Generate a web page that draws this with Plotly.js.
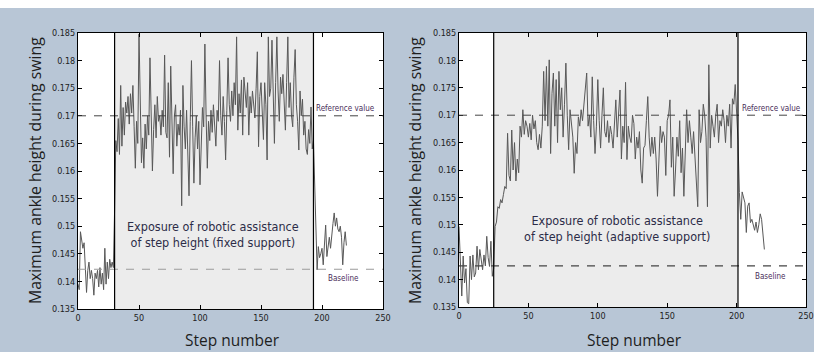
<!DOCTYPE html>
<html>
<head>
<meta charset="utf-8">
<script src="https://cdn.plot.ly/plotly-3.0.1.min.js"></script>
<style>
html,body{margin:0;padding:0;background:#ffffff;}
#chart{width:814px;height:352px;}
</style>
</head>
<body>
<div id="chart"></div>
<script>
// ---------------- DATA ----------------
// Maximum ankle height during swing, fixed support (steps 0..220)
const fixedSupport = [
0.1395,0.1385,0.1490,0.1475,0.1460,0.1470,0.1410,0.1380,0.1420,0.1435,
0.1405,0.1420,0.1405,0.1375,0.1415,0.1405,0.1420,0.1390,0.1425,0.1395,
0.1415,0.1385,0.1460,0.1395,0.1435,0.1405,0.1440,0.1425,0.1435,0.1425,
0.1530,0.1655,0.1635,0.1695,0.1630,0.1755,0.1645,0.1715,0.1665,0.1725,
0.1705,0.1735,0.1685,0.1740,0.1705,0.1755,0.1680,0.1605,0.1690,0.1650,
0.1848,0.1700,0.1615,0.1660,0.1605,0.1685,0.1640,0.1700,0.1665,0.1805,
0.1690,0.1600,0.1675,0.1720,0.1660,0.1735,0.1690,0.1700,0.1665,0.1710,
0.1680,0.1810,0.1670,0.1660,0.1760,0.1625,0.1790,0.1665,0.1595,0.1700,
0.1720,0.1645,0.1685,0.1665,0.1710,0.1537,0.1755,0.1680,0.1640,0.1710,
0.1600,0.1555,0.1690,0.1800,0.1680,0.1578,0.1660,0.1700,0.1640,0.1690,
0.1575,0.1660,0.1715,0.1680,0.1830,0.1700,0.1605,0.1690,0.1655,0.1710,
0.1670,0.1720,0.1685,0.1645,0.1710,0.1690,0.1800,0.1700,0.1665,0.1735,
0.1690,0.1620,0.1710,0.1805,0.1720,0.1690,0.1745,0.1700,0.1760,0.1720,
0.1843,0.1674,0.1740,0.1705,0.1765,0.1665,0.1770,0.1740,0.1715,0.1760,
0.1665,0.1735,0.1705,0.1745,0.1720,0.1696,0.1750,0.1816,0.1644,0.1735,
0.1760,0.1715,0.1657,0.1760,0.1720,0.1620,0.1843,0.1735,0.1750,0.1837,
0.1710,0.1650,0.1760,0.1843,0.1745,0.1690,0.1770,0.1740,0.1775,0.1720,
0.1674,0.1760,0.1843,0.1715,0.1760,0.1700,0.1680,0.1770,0.1820,0.1720,
0.1690,0.1638,0.1745,0.1700,0.1730,0.1665,0.1690,0.1640,0.1630,0.1675,
0.1650,0.1716,0.1640,0.1655,0.1560,0.1485,0.1421,0.1463,0.1443,0.1450,
0.1460,0.1430,0.1470,0.1502,0.1445,0.1470,0.1480,0.1460,0.1490,0.1505,
0.1524,0.1500,0.1515,0.1495,0.1490,0.1500,0.1480,0.1430,0.1470,0.1490,
0.1465
];
// Maximum ankle height during swing, adaptive support (steps 0..220)
const adaptiveSupport = [
0.1497,0.1418,0.1370,0.1443,0.1394,0.1420,0.1358,0.1356,0.1443,0.1400,
0.1445,0.1405,0.1412,0.1461,0.1418,0.1455,0.1430,0.1418,0.1445,0.1425,
0.1479,0.1440,0.1424,0.1470,0.1406,0.1420,0.1497,0.1505,0.1533,0.1530,
0.1546,0.1540,0.1555,0.1570,0.1566,0.1667,0.1590,0.1580,0.1673,0.1600,
0.1650,0.1580,0.1620,0.1595,0.1680,0.1660,0.1710,0.1665,0.1690,0.1680,
0.1660,0.1685,0.1655,0.1700,0.1675,0.1690,0.1650,0.1637,0.1665,0.1640,
0.1680,0.1780,0.1690,0.1789,0.1680,0.1801,0.1630,0.1740,0.1777,0.1680,
0.1765,0.1650,0.1780,0.1710,0.1750,0.1660,0.1720,0.1795,0.1700,0.1637,
0.1710,0.1690,0.1660,0.1594,0.1650,0.1630,0.1697,0.1680,0.1710,0.1690,
0.1720,0.1760,0.1777,0.1680,0.1700,0.1660,0.1770,0.1690,0.1630,0.1680,
0.1765,0.1690,0.1640,0.1700,0.1750,0.1670,0.1660,0.1690,0.1650,0.1680,
0.1665,0.1640,0.1680,0.1728,0.1660,0.1700,0.1746,0.1620,0.1680,0.1650,
0.1760,0.1619,0.1680,0.1660,0.1650,0.1700,0.1685,0.1620,0.1660,0.1640,
0.1670,0.1600,0.1576,0.1640,0.1645,0.1690,0.1734,0.1660,0.1625,0.1660,
0.1630,0.1660,0.1620,0.1552,0.1630,0.1680,0.1650,0.1670,0.1660,0.1590,
0.1690,0.1700,0.1728,0.1605,0.1660,0.1552,0.1600,0.1660,0.1625,0.1690,
0.1595,0.1640,0.1552,0.1620,0.1710,0.1650,0.1690,0.1660,0.1630,0.1670,
0.1620,0.1580,0.1533,0.1710,0.1650,0.1670,0.1720,0.1700,0.1660,0.1533,
0.1792,0.1640,0.1700,0.1680,0.1660,0.1700,0.1720,0.1650,0.1690,0.1680,
0.1710,0.1690,0.1650,0.1700,0.1680,0.1720,0.1640,0.1730,0.1720,0.1756,
0.1700,0.1655,0.1559,0.1510,0.1560,0.1547,0.1540,0.1486,0.1534,0.1540,
0.1504,0.1510,0.1500,0.1490,0.1505,0.1486,0.1500,0.1520,0.1510,0.1480,
0.1455
];
const fixedSteps = fixedSupport.map((v, i) => i);
const adaptiveSteps = adaptiveSupport.map((v, i) => i);

// phase boundaries (step numbers) and reference levels
const fixedPhase = [30, 193];
const adaptivePhase = [25, 201];
const referenceValue = 0.17;
const fixedBaseline = 0.1422;
const adaptiveBaseline = 0.1425;

const xTickVals = [0, 50, 100, 150, 200, 250];
const xTickText = ["0", "50", "100", "150", "200", "250"];
const yTickVals = [0.135, 0.14, 0.145, 0.15, 0.155, 0.16, 0.165, 0.17, 0.175, 0.18, 0.185];
const yTickText = ["0.135", "0.14", "0.145", "0.15", "0.155", "0.16", "0.165", "0.17", "0.175", "0.18", "0.185"];

const yTitle = "Maximum ankle height during swing";
const xTitle = "Step number";
const fixedLabel = "Exposure of robotic assistance<br>of step height (fixed support)";
const adaptiveLabel = "Exposure of robotic assistance<br>of step height (adaptive support)";

// ---------------- LAYOUT ----------------
const W = 814, H = 352;
const px = x => x / W;
const py = y => 1 - y / H;

const lineStyle = {color: "#585858", width: 1};
const traces = [
  {x: fixedSteps, y: fixedSupport, xaxis: "x", yaxis: "y", type: "scatter", mode: "lines", line: lineStyle, hoverinfo: "skip"},
  {x: adaptiveSteps, y: adaptiveSupport, xaxis: "x2", yaxis: "y2", type: "scatter", mode: "lines", line: lineStyle, hoverinfo: "skip"}
];

const condensed = "DejaVu Sans Condensed, Liberation Sans Narrow, sans-serif";
const tickFont = {family: condensed, size: 9, color: "#222"};
function xAx(domain, anchor) {
  return {domain: domain, anchor: anchor, range: [0, 250], tickmode: "array", tickvals: xTickVals, ticktext: xTickText,
    ticks: "inside", ticklen: 4, tickcolor: "#000", mirror: "ticks", showline: true, linecolor: "#000", linewidth: 1,
    showgrid: false, zeroline: false, tickfont: tickFont, fixedrange: true};
}
function yAx(domain, anchor) {
  return {domain: domain, anchor: anchor, range: [0.135, 0.185], tickmode: "array", tickvals: yTickVals, ticktext: yTickText,
    ticks: "inside", ticklen: 4, tickcolor: "#000", mirror: "ticks", showline: true, linecolor: "#000", linewidth: 1,
    showgrid: false, zeroline: false, tickfont: tickFont, fixedrange: true};
}

function phaseShapes(xr, yr, phase, baseline, baseColor) {
  const yd = yr + " domain";
  return [
    {type: "rect", xref: xr, yref: yd, x0: phase[0], x1: phase[1], y0: 0, y1: 1, fillcolor: "#ececec", line: {width: 0}, layer: "below"},
    {type: "line", xref: xr, yref: yr, x0: 0, x1: 250, y0: referenceValue, y1: referenceValue, line: {color: "#444", width: 1, dash: "8px,8px"}, layer: "above"},
    {type: "line", xref: xr, yref: yr, x0: 0, x1: 250, y0: baseline, y1: baseline, line: {color: baseColor, width: 1.2, dash: "8px,8px"}, layer: "above"},
    {type: "line", xref: xr, yref: yd, x0: phase[0], x1: phase[0], y0: 0, y1: 1, line: {color: "#000", width: 1.2}, layer: "above"},
    {type: "line", xref: xr, yref: yd, x0: phase[1], x1: phase[1], y0: 0, y1: 1, line: {color: "#000", width: 1.2}, layer: "above"}
  ];
}

const shapes = [
  {type: "rect", xref: "paper", yref: "paper", x0: 0, x1: 1, y0: py(8), y1: 1, fillcolor: "#ffffff", line: {width: 0}, layer: "below"}
].concat(phaseShapes("x", "y", fixedPhase, fixedBaseline, "#9a9a9a"))
 .concat(phaseShapes("x2", "y2", adaptivePhase, adaptiveBaseline, "#444"));

const titleFont = {family: "Open Sans, Noto Sans, sans-serif", size: 15.8, color: "#1e1e1e"};
const xTitleFont = {family: "Open Sans, Noto Sans, sans-serif", size: 15.5, color: "#1e1e1e"};
const labelFont = {family: condensed, size: 12.5, color: "#2c2c48"};
const smallFont = {family: condensed, size: 8, color: "#4a2f5a"};

function ann(text, x, y, font, extra) {
  return Object.assign({text: text, xref: "paper", yref: "paper", x: px(x), y: py(y), xanchor: "center", yanchor: "middle", showarrow: false, font: font}, extra || {});
}

const annotations = [
  ann(yTitle, 35, 171, titleFont, {textangle: -90}),
  ann(yTitle, 415, 171, titleFont, {textangle: -90}),
  ann(xTitle, 232, 340, xTitleFont),
  ann(xTitle, 634, 340, xTitleFont),
  ann(fixedLabel, 213, 234, labelFont),
  ann(adaptiveLabel, 617, 228, labelFont),
  ann("Reference value", 345, 108, smallFont),
  ann("Baseline", 343, 278, smallFont),
  ann("Reference value", 771, 108, smallFont),
  ann("Baseline", 770, 276, smallFont)
];

const layout = {
  width: W, height: H,
  margin: {l: 0, r: 0, t: 0, b: 0},
  paper_bgcolor: "#b8c6d6",
  plot_bgcolor: "#ffffff",
  showlegend: false,
  xaxis: xAx([px(78), px(383)], "y"),
  yaxis: yAx([py(309), py(33)], "x"),
  xaxis2: xAx([px(459), px(806)], "y2"),
  yaxis2: yAx([py(307), py(33)], "x2"),
  shapes: shapes,
  annotations: annotations
};

Plotly.newPlot("chart", traces, layout, {displayModeBar: false, staticPlot: true});
</script>
</body>
</html>
